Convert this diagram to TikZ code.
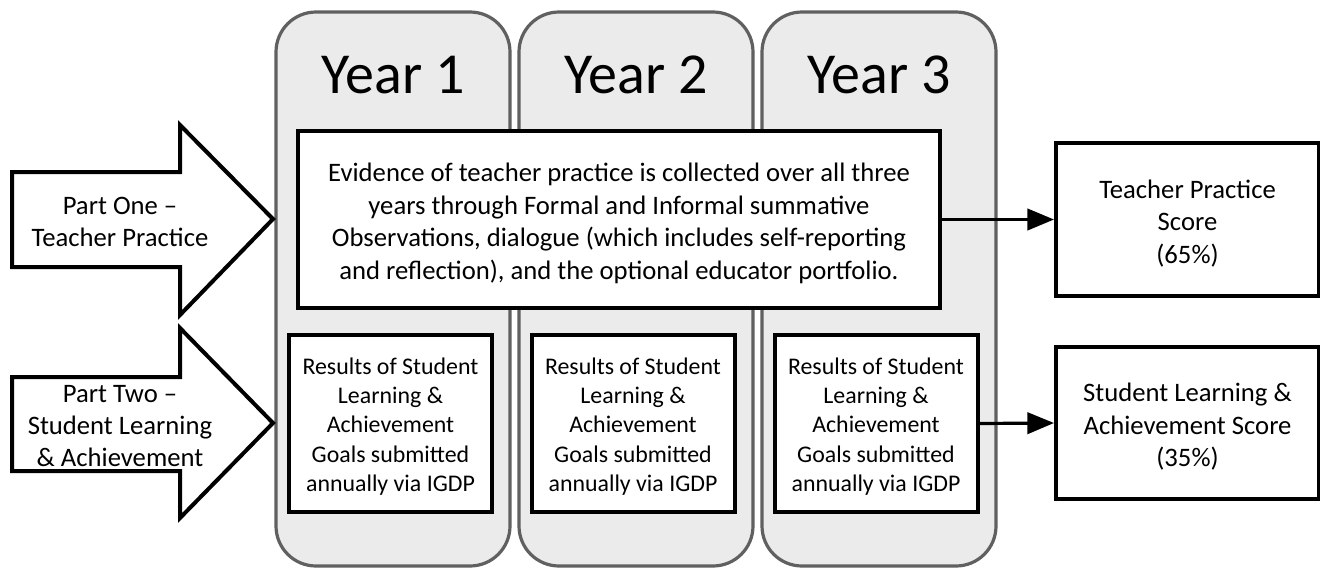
\documentclass[tikz,border=0pt]{standalone}
\usepackage{fontspec}
\setmainfont{Carlito}
\usetikzlibrary{arrows.meta}
\definecolor{colfill}{HTML}{EBEBEB}
\definecolor{colline}{HTML}{606060}
\begin{document}
\begin{tikzpicture}[x=0.75pt,y=-0.75pt,
  column/.style={draw=colline,fill=colfill,line width=2.4pt,rounded corners=30pt},
  yearlabel/.style={font=\fontsize{43.5}{50}\selectfont,inner sep=0pt},
  boxframe/.style={draw=black,fill=white,line width=3pt,inner sep=0pt},
  bigtext/.style={inner sep=0pt,align=center,font=\fontsize{20}{24.4}\selectfont},
  smalltext/.style={inner sep=0pt,align=center,font=\fontsize{17.9}{21.9}\selectfont},
  blockarrow/.style={draw=black,fill=white,line width=3pt,line join=miter},
  arrowtext/.style={inner sep=0pt,align=center,font=\fontsize{20}{24.2}\selectfont},
  conn/.style={draw=black,line width=2.4pt,-{Triangle[length=20pt,width=16pt]}}
]
\useasboundingbox (0,0) rectangle (1320,568);
% columns
\draw[column] (276,12) rectangle (510,566);
\draw[column] (519,12) rectangle (753,566);
\draw[column] (762,12) rectangle (996,566);
\node[yearlabel] (y1) at (393,75) {Year 1};
\node[yearlabel] (y2) at (636,75) {Year 2};
\node[yearlabel] (y3) at (879,75) {Year 3};
% block arrows
\draw[blockarrow] (12,172) -- (180,172) -- (180,125) -- (273,219) -- (180,315) -- (180,267) -- (12,267) -- cycle;
\draw[blockarrow] (12,377) -- (180,377) -- (180,328) -- (273,423) -- (180,518) -- (180,471) -- (12,471) -- cycle;
\node[arrowtext] (p1) at (120,222) {Part One –\\Teacher Practice};
\node[arrowtext] (p2) at (120,426) {Part Two –\\Student Learning\\\& Achievement};
% main box
\node[boxframe,minimum width=481.5pt,minimum height=132.75pt] (main) at (619,219.5) {};
\node[bigtext] (maintext) at ([yshift=-3pt]main.center)
  {Evidence of teacher practice is collected over all three\\
   years through Formal and Informal summative\\
   Observations, dialogue (which includes self-reporting\\
   and reflection), and the optional educator portfolio.};
% small boxes
\foreach \n/\x in {s1/390.5,s2/633,s3/876}{
  \node[boxframe,minimum width=152.25pt,minimum height=132.75pt] (\n) at (\x,423.5) {};
  \node[smalltext] (\n text) at ([yshift=-2.2pt]\n.center)
    {Results of Student\\Learning \&\\Achievement\\Goals submitted\\annually via IGDP};
}
% right boxes
\node[boxframe,minimum width=197.25pt,minimum height=114.75pt] (tp) at (1187.5,219.5) {};
\node[bigtext] (tptext) at ([yshift=-3pt]tp.center) {Teacher Practice\\Score\\(65\%)};
\node[boxframe,minimum width=197.25pt,minimum height=114pt] (sl) at (1187.5,423) {};
\node[bigtext] (sltext) at ([yshift=-3pt]sl.center) {Student Learning \&\\Achievement Score\\(35\%)};
% connectors
\draw[conn] (main.east) -- (tp.west);
\draw[conn] (s3.east) -- (sl.west);
\end{tikzpicture}
\end{document}
